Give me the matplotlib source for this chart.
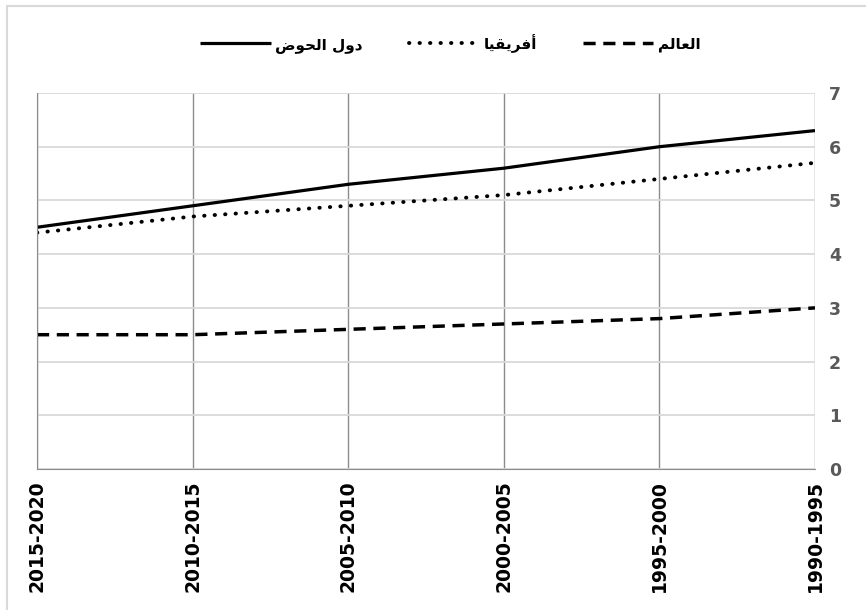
import matplotlib.pyplot as plt
from matplotlib.patches import Rectangle

# الفترات (من اليسار إلى اليمين كما في الشكل)
periods = ['2015-2020', '2010-2015', '2005-2010', '2000-2005', '1995-2000', '1990-1995']
basin = [4.5, 4.9, 5.3, 5.6, 6.0, 6.3]      # دول الحوض
africa = [4.4, 4.7, 4.9, 5.1, 5.4, 5.7]     # أفريقيا
world = [2.5, 2.5, 2.6, 2.7, 2.8, 3.0]      # العالم
labels = ['دول الحوض', 'أفريقيا', 'العالم']
y_ticks = [0, 1, 2, 3, 4, 5, 6, 7]

# matplotlib 3.10 لا يشكّل الحروف العربية، لذلك نستعمل أشكال العرض يدوياً
FORMS = {
    'ا': ('\uFE8D', '\uFE8E', None, None),
    'أ': ('\uFE83', '\uFE84', None, None),
    'د': ('\uFEA9', '\uFEAA', None, None),
    'و': ('\uFEED', '\uFEEE', None, None),
    'ر': ('\uFEAD', '\uFEAE', None, None),
    'ل': ('\uFEDD', '\uFEDE', '\uFEDF', '\uFEE0'),
    'ح': ('\uFEA1', '\uFEA2', '\uFEA3', '\uFEA4'),
    'ض': ('\uFEBD', '\uFEBE', '\uFEBF', '\uFEC0'),
    'ف': ('\uFED1', '\uFED2', '\uFED3', '\uFED4'),
    'ي': ('\uFEF1', '\uFEF2', '\uFEF3', '\uFEF4'),
    'ق': ('\uFED5', '\uFED6', '\uFED7', '\uFED8'),
    'ع': ('\uFEC9', '\uFECA', '\uFECB', '\uFECC'),
    'م': ('\uFEE1', '\uFEE2', '\uFEE3', '\uFEE4'),
}


def joins_left(ch):
    return ch in FORMS and FORMS[ch][2] is not None


def shape(text):
    out = []
    for i, ch in enumerate(text):
        if ch not in FORMS:
            out.append(ch)
            continue
        prev = text[i - 1] if i > 0 else ''
        nxt = text[i + 1] if i + 1 < len(text) else ''
        f = FORMS[ch]
        a = joins_left(prev)
        b = nxt in FORMS and f[2] is not None
        if a and b:
            out.append(f[3])
        elif a:
            out.append(f[1])
        elif b:
            out.append(f[2])
        else:
            out.append(f[0])
    return ''.join(out)[::-1]


fig = plt.figure(figsize=(8.66, 6.10), dpi=100)
ax = fig.add_axes([37 / 866, 1 - 469 / 610, (815 - 37) / 866, (469 - 93) / 610])

x = list(range(len(periods)))
ax.plot(x, basin, color='black', lw=2.3, solid_capstyle='butt', label=shape(labels[0]))
ax.plot(x, africa, color='black', lw=2.8, linestyle=(0, (0.1, 2.6)),
        dash_capstyle='round', label=shape(labels[1]))
ax.plot(x, world, color='black', lw=2.5, linestyle=(0, (3.5, 2.2)), label=shape(labels[2]))

ax.set_xlim(0, len(periods) - 1)
ax.set_ylim(0, 7)
ax.set_xticks(x)
ax.set_xticklabels(periods, rotation=90, fontsize=13.5, fontweight='bold', color='black')
ax.set_yticks(y_ticks)
ax.set_yticklabels([str(v) for v in y_ticks], fontsize=12.5, fontweight='bold', color='#595959')
ax.yaxis.tick_right()
ax.tick_params(axis='both', length=0)
ax.tick_params(axis='y', pad=10)
ax.tick_params(axis='x', pad=8)

ax.grid(axis='y', color='#d9d9d9', lw=1.3)
ax.grid(axis='x', color='#8c8c8c', lw=1.0)
ax.set_axisbelow(True)
for side in ['top', 'right']:
    ax.spines[side].set_visible(False)
ax.spines['left'].set_color('#8c8c8c')
ax.spines['bottom'].set_color('#8c8c8c')

fig.legend(loc='upper center', bbox_to_anchor=(0.52, 0.967), ncol=3, frameon=False,
           prop={'family': 'DejaVu Sans', 'weight': 'bold', 'size': 11},
           handlelength=4.6, columnspacing=3.0, handletextpad=0.3)

fig.patches.append(Rectangle((7 / 866, -0.1), 1.2, 1 - 6 / 610 + 0.1, transform=fig.transFigure,
                             fill=False, edgecolor='#d9d9d9', lw=1.5))

plt.savefig('out.png', dpi=100)
